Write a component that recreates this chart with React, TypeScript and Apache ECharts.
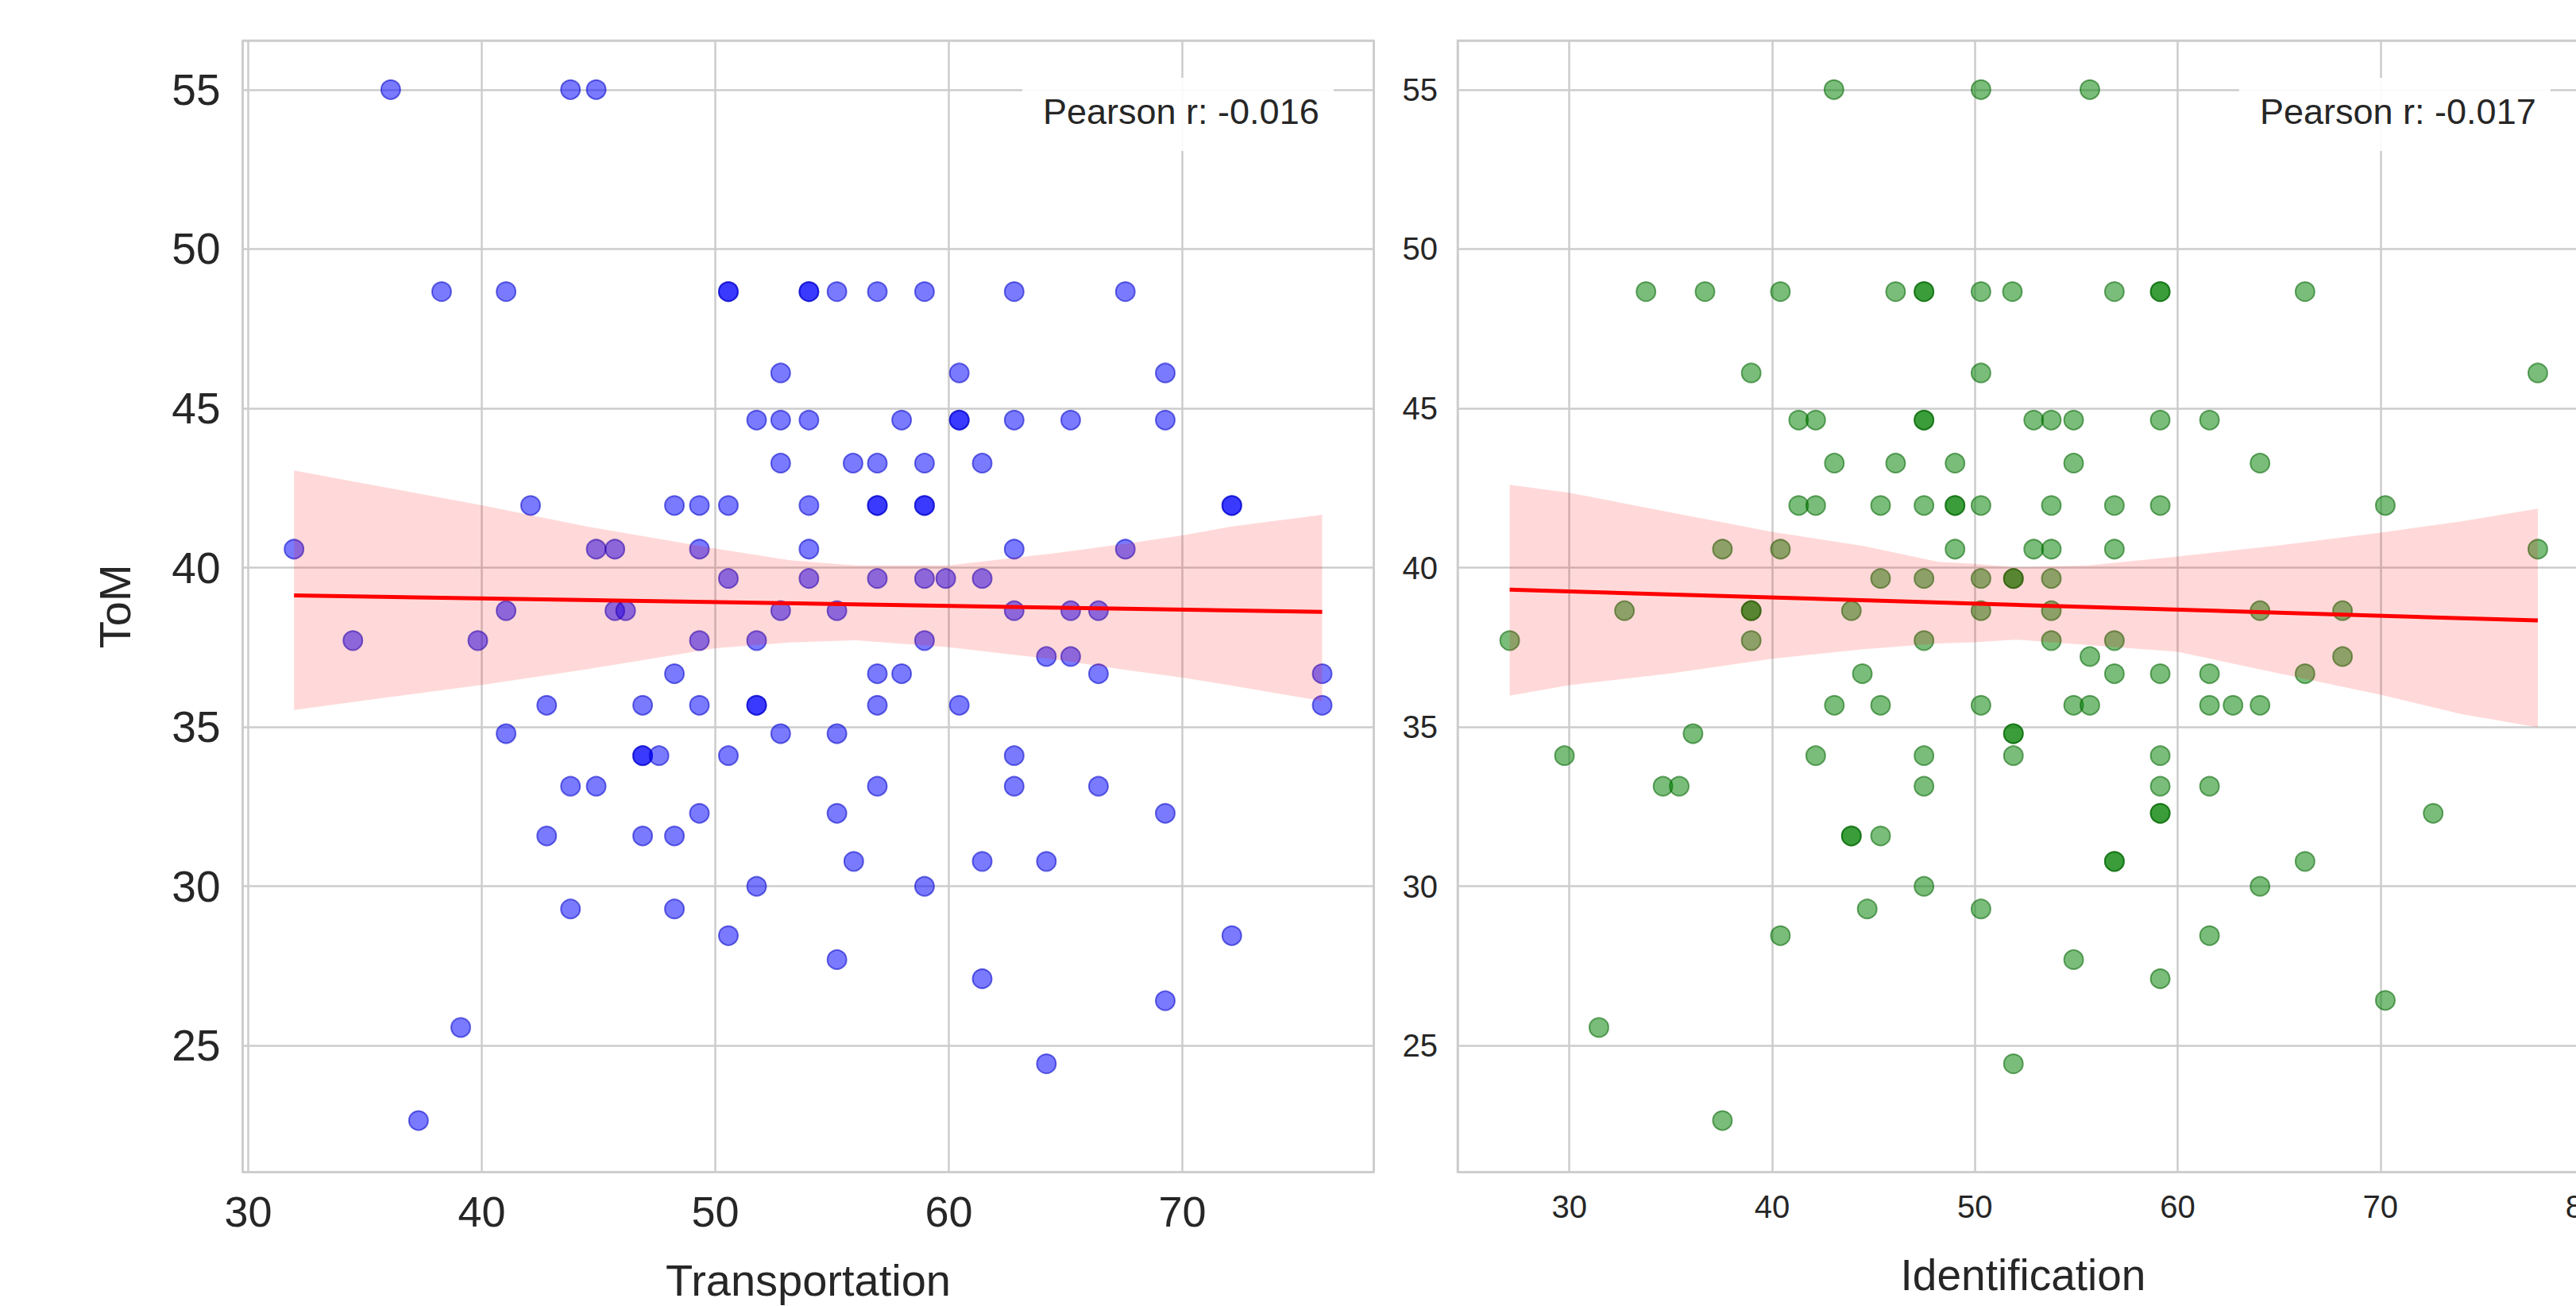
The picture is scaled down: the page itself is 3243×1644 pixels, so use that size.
import React, { useEffect, useRef } from "react";
import * as echarts from "echarts";

// ---------- data ----------
// [Transportation, ToM]
const transportationPoints: [number, number][] = [
  [36.1, 55], [43.8, 55], [44.9, 55],
  [38.28, 48.66], [41.04, 48.66], [50.56, 48.66], [50.56, 48.66], [54.01, 48.66], [54.01, 48.66], [55.21, 48.66], [56.94, 48.66], [58.96, 48.66], [62.8, 48.66], [67.56, 48.66],
  [52.8, 46.11], [60.45, 46.11], [69.27, 46.11],
  [51.77, 44.63], [52.8, 44.63], [54.01, 44.63], [57.98, 44.63], [60.45, 44.63], [60.45, 44.63], [62.8, 44.63], [65.22, 44.63], [69.27, 44.63],
  [52.8, 43.28], [55.9, 43.28], [56.94, 43.28], [58.96, 43.28], [61.43, 43.28],
  [42.09, 41.95], [48.25, 41.95], [49.32, 41.95], [50.56, 41.95], [54.01, 41.95], [56.94, 41.95], [56.94, 41.95], [58.96, 41.95], [58.96, 41.95], [72.12, 41.95], [72.12, 41.95],
  [31.96, 40.58], [44.9, 40.58], [45.7, 40.58], [49.32, 40.58], [54.01, 40.58], [62.8, 40.58], [67.56, 40.58],
  [50.56, 39.66], [54.01, 39.66], [56.94, 39.66], [58.96, 39.66], [59.87, 39.66], [61.43, 39.66],
  [41.04, 38.65], [45.7, 38.65], [46.16, 38.65], [52.8, 38.65], [55.21, 38.65], [62.8, 38.65], [65.22, 38.65], [66.41, 38.65],
  [34.48, 37.71], [39.83, 37.71], [49.32, 37.71], [51.77, 37.71], [58.96, 37.71],
  [64.18, 37.21], [65.22, 37.21],
  [48.25, 36.67], [56.94, 36.67], [57.98, 36.67], [66.41, 36.67], [75.99, 36.67],
  [42.78, 35.68], [46.89, 35.68], [49.32, 35.68], [51.77, 35.68], [51.77, 35.68], [56.94, 35.68], [60.45, 35.68], [75.99, 35.68],
  [41.04, 34.79], [52.8, 34.79], [55.21, 34.79],
  [46.89, 34.1], [46.89, 34.1], [47.59, 34.1], [50.56, 34.1], [62.8, 34.1],
  [43.8, 33.14], [44.9, 33.14], [56.94, 33.14], [62.8, 33.14], [66.41, 33.14],
  [49.32, 32.29], [55.21, 32.29], [69.27, 32.29],
  [42.78, 31.58], [46.89, 31.58], [48.25, 31.58],
  [55.93, 30.78], [61.43, 30.78], [64.18, 30.78],
  [51.77, 30.0], [58.96, 30.0],
  [43.8, 29.29], [48.25, 29.29],
  [50.56, 28.45], [72.12, 28.45],
  [55.21, 27.7], [61.43, 27.1], [69.27, 26.41], [39.1, 25.57], [64.18, 24.43], [37.29, 22.65],
];

// [Identification, ToM]
const identificationPoints: [number, number][] = [
  [43.05, 55], [50.3, 55], [55.67, 55],
  [33.78, 48.66], [36.69, 48.66], [40.41, 48.66], [46.09, 48.66], [47.49, 48.66], [47.49, 48.66], [50.3, 48.66], [51.85, 48.66], [56.88, 48.66], [59.14, 48.66], [59.14, 48.66], [66.28, 48.66],
  [38.97, 46.11], [50.3, 46.11], [77.76, 46.11],
  [41.31, 44.63], [42.15, 44.63], [47.49, 44.63], [47.49, 44.63], [52.9, 44.63], [53.77, 44.63], [54.87, 44.63], [59.14, 44.63], [61.57, 44.63],
  [43.07, 43.28], [46.09, 43.28], [49.02, 43.28], [54.87, 43.28], [64.06, 43.28],
  [41.31, 41.95], [42.15, 41.95], [45.35, 41.95], [47.49, 41.95], [49.02, 41.95], [49.02, 41.95], [50.3, 41.95], [53.77, 41.95], [56.88, 41.95], [59.14, 41.95], [70.24, 41.95],
  [37.55, 40.58], [40.41, 40.58], [49.02, 40.58], [52.9, 40.58], [53.77, 40.58], [56.88, 40.58], [77.76, 40.58],
  [45.35, 39.66], [47.49, 39.66], [50.3, 39.66], [51.9, 39.66], [51.9, 39.66], [53.77, 39.66],
  [32.72, 38.65], [38.97, 38.65], [38.97, 38.65], [43.91, 38.65], [50.3, 38.65], [53.77, 38.65], [64.06, 38.65], [68.13, 38.65],
  [27.06, 37.71], [38.97, 37.71], [47.49, 37.71], [53.77, 37.71], [56.88, 37.71],
  [55.67, 37.21], [68.13, 37.21],
  [44.45, 36.67], [56.88, 36.67], [59.14, 36.67], [61.57, 36.67], [66.28, 36.67],
  [43.07, 35.68], [45.35, 35.68], [50.3, 35.68], [54.87, 35.68], [55.67, 35.68], [61.57, 35.68], [62.73, 35.68], [64.06, 35.68],
  [36.1, 34.79], [51.9, 34.79], [51.9, 34.79],
  [29.76, 34.1], [42.15, 34.1], [47.49, 34.1], [51.9, 34.1], [59.14, 34.1],
  [34.62, 33.14], [35.42, 33.14], [47.49, 33.14], [59.14, 33.14], [61.57, 33.14],
  [59.14, 32.29], [59.14, 32.29], [72.6, 32.29],
  [43.91, 31.58], [43.91, 31.58], [45.35, 31.58],
  [56.88, 30.78], [56.88, 30.78], [66.28, 30.78],
  [47.49, 30.0], [64.06, 30.0],
  [44.69, 29.29], [50.3, 29.29],
  [40.41, 28.45], [61.57, 28.45],
  [54.87, 27.7], [59.14, 27.1], [70.24, 26.42], [31.46, 25.57], [51.9, 24.43], [37.55, 22.65],
];

// regression lines: [x, ToM] at both ends
const transportationFit: [number, number][] = [[31.96, 39.13], [75.99, 38.61]];
const identificationFit: [number, number][] = [[27.06, 39.31], [77.76, 38.34]];

// confidence bands
const transportationBandX = [31.96, 36, 40, 44.5, 50, 53.2, 56, 60, 64.5, 67.5, 70, 72.1, 75.99];
const transportationBandUpper = [43.05, 42.5, 41.96, 41.29, 40.6, 40.23, 40.07, 40.07, 40.45, 40.74, 41.01, 41.29, 41.66];
const transportationBandLower = [35.53, 35.93, 36.32, 36.81, 37.47, 37.65, 37.72, 37.5, 37.12, 36.8, 36.55, 36.3, 35.81];

const identificationBandX = [27.06, 30, 35, 40, 44.5, 48.2, 50, 52, 55.6, 60, 65, 70, 74, 77.76];
const identificationBandUpper = [42.6, 42.35, 41.73, 41.12, 40.68, 40.18, 40.12, 40.01, 40.07, 40.35, 40.7, 41.1, 41.45, 41.85];
const identificationBandLower = [35.98, 36.31, 36.68, 37.14, 37.44, 37.62, 37.66, 37.74, 37.57, 37.36, 36.68, 36.01, 35.4, 34.99];

const pearsonLabels = ["Pearson r: -0.016", "Pearson r: -0.017"];
const axisTitles = { left: "Transportation", right: "Identification", y: "ToM" };

// ---------- styling ----------
const FONT = "'Liberation Sans', Arial, Helvetica, sans-serif";
const TEXT = "#262626";
const GRID = "#cccccc";

const intLabel = (v: number) => (Math.abs(v - Math.round(v)) < 1e-6 ? String(Math.round(v)) : "");

function bandSeries(xs: number[], up: number[], lo: number[], idx: number) {
  return {
    type: "custom",
    xAxisIndex: idx,
    yAxisIndex: idx,
    silent: true,
    z: 3,
    data: [[xs[0], up[0]]],
    renderItem: (_params: any, api: any) => {
      const pts: number[][] = [];
      for (let i = 0; i < xs.length; i++) pts.push(api.coord([xs[i], up[i]]));
      for (let i = xs.length - 1; i >= 0; i--) pts.push(api.coord([xs[i], lo[i]]));
      return {
        type: "polygon",
        shape: { points: pts },
        style: { fill: "rgba(255,0,0,0.15)", stroke: "none" },
      };
    },
  };
}

function xAxisOf(idx: number, min: number, max: number, name: string, nameGap: number, labelSize: number, nameSize: number, margin: number) {
  return {
    type: "value",
    gridIndex: idx,
    min,
    max,
    minInterval: 10,
    maxInterval: 10,
    name,
    nameLocation: "middle",
    nameGap,
    nameTextStyle: { fontSize: nameSize, color: TEXT, fontFamily: FONT },
    axisLine: { show: false },
    axisTick: { show: false },
    axisLabel: { fontSize: labelSize, color: TEXT, margin, formatter: intLabel, fontFamily: FONT },
    splitLine: { show: true, lineStyle: { color: GRID, width: 2.5 } },
  };
}

function yAxisOf(idx: number, labelSize: number, margin: number, name?: string) {
  return {
    type: "value",
    gridIndex: idx,
    min: 21.03,
    max: 56.54,
    minInterval: 5,
    maxInterval: 5,
    name: name || "",
    nameLocation: "middle",
    nameGap: 133,
    nameTextStyle: { fontSize: 56, color: TEXT, fontFamily: FONT },
    axisLine: { show: false },
    axisTick: { show: false },
    axisLabel: { fontSize: labelSize, color: TEXT, margin, formatter: intLabel, fontFamily: FONT },
    splitLine: { show: true, lineStyle: { color: GRID, width: 2.5 } },
  };
}

export default function App() {
  const ref = useRef<HTMLDivElement>(null);

  useEffect(() => {
    if (!ref.current) return;
    const chart = echarts.init(ref.current, undefined, { renderer: "svg" });
    const gridBase = {
      top: 51,
      width: 1424,
      height: 1424.5,
      show: true,
      borderColor: GRID,
      borderWidth: 2.5,
      backgroundColor: "#ffffff",
      containLabel: false,
      outerBoundsMode: "none",
    };
    const option: any = {
      animation: false,
      backgroundColor: "#ffffff",
      textStyle: { fontFamily: FONT },
      grid: [
        { ...gridBase, left: 305.5 },
        { ...gridBase, left: 1835 },
      ],
      xAxis: [
        xAxisOf(0, 29.76, 78.2, axisTitles.left, 108, 54, 56, 22),
        xAxisOf(1, 24.49, 80.27, axisTitles.right, 102, 40, 55, 23),
      ],
      yAxis: [yAxisOf(0, 55, 28, axisTitles.y), yAxisOf(1, 40, 25)],
      series: [
        {
          type: "scatter",
          xAxisIndex: 0,
          yAxisIndex: 0,
          z: 2,
          symbol: "circle",
          symbolSize: 24,
          data: transportationPoints,
          itemStyle: { color: "rgba(0,0,255,0.65)", borderColor: "rgba(0,0,200,0.7)", borderWidth: 2 },
          emphasis: { disabled: true },
        },
        bandSeries(transportationBandX, transportationBandUpper, transportationBandLower, 0),
        {
          type: "line",
          xAxisIndex: 0,
          yAxisIndex: 0,
          z: 4,
          symbol: "none",
          data: transportationFit,
          lineStyle: { color: "#ff0000", width: 5 },
          silent: true,
        },
        {
          type: "scatter",
          xAxisIndex: 1,
          yAxisIndex: 1,
          z: 2,
          symbol: "circle",
          symbolSize: 24,
          data: identificationPoints,
          itemStyle: { color: "rgba(0,128,0,0.65)", borderColor: "rgba(0,100,0,0.7)", borderWidth: 2 },
          emphasis: { disabled: true },
        },
        bandSeries(identificationBandX, identificationBandUpper, identificationBandLower, 1),
        {
          type: "line",
          xAxisIndex: 1,
          yAxisIndex: 1,
          z: 4,
          symbol: "none",
          data: identificationFit,
          lineStyle: { color: "#ff0000", width: 5 },
          silent: true,
        },
      ],
      graphic: [
        { type: "rect", shape: { x: 1287, y: 98, width: 392, height: 92 }, style: { fill: "rgba(255,255,255,0.9)" }, z: 90 },
        {
          type: "text",
          x: 1313,
          y: 140,
          z: 91,
          style: { text: pearsonLabels[0], fontSize: 45, fill: TEXT, fontFamily: FONT, textAlign: "left", textVerticalAlign: "middle" },
        },
        { type: "rect", shape: { x: 2819, y: 98, width: 392, height: 92 }, style: { fill: "rgba(255,255,255,0.9)" }, z: 90 },
        {
          type: "text",
          x: 2845,
          y: 140,
          z: 91,
          style: { text: pearsonLabels[1], fontSize: 45, fill: TEXT, fontFamily: FONT, textAlign: "left", textVerticalAlign: "middle" },
        },
      ],
    };
    chart.setOption(option);
    return () => chart.dispose();
  }, []);

  return (
    <div
      ref={ref}
      style={{ position: "absolute", left: 0, top: 0, width: 3243, height: 1644, background: "#ffffff", overflow: "hidden" }}
    />
  );
}
